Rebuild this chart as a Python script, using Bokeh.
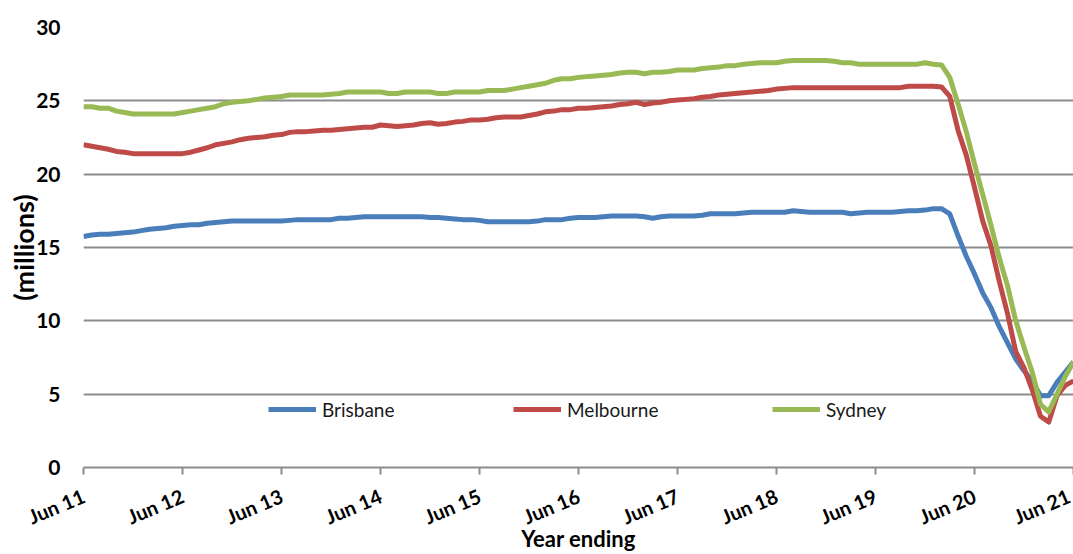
from bokeh.plotting import figure
from bokeh.models import FixedTicker, Legend, LegendItem, Range1d
from bokeh.embed import file_html
from bokeh.resources import INLINE

# Monthly values, Jun 2011 .. Jun 2021 (millions, year ending)
brisbane = [15.75, 15.85, 15.9, 15.9, 15.95, 16.0, 16.05, 16.15, 16.25, 16.3, 16.35, 16.45,
            16.5, 16.55, 16.55, 16.65, 16.7, 16.75, 16.8, 16.8, 16.8, 16.8, 16.8, 16.8,
            16.8, 16.85, 16.9, 16.9, 16.9, 16.9, 16.9, 17.0, 17.0, 17.05, 17.1, 17.1,
            17.1, 17.1, 17.1, 17.1, 17.1, 17.1, 17.05, 17.05, 17.0, 16.95, 16.9, 16.9,
            16.85, 16.75, 16.75, 16.75, 16.75, 16.75, 16.75, 16.8, 16.9, 16.9, 16.9, 17.0,
            17.05, 17.05, 17.05, 17.1, 17.15, 17.15, 17.15, 17.15, 17.1, 17.0, 17.1, 17.15,
            17.15, 17.15, 17.15, 17.2, 17.3, 17.3, 17.3, 17.3, 17.35, 17.4, 17.4, 17.4,
            17.4, 17.4, 17.5, 17.45, 17.4, 17.4, 17.4, 17.4, 17.4, 17.3, 17.35, 17.4,
            17.4, 17.4, 17.4, 17.45, 17.5, 17.5, 17.55, 17.65, 17.65, 17.3, 15.8, 14.4,
            13.2, 11.9, 10.9, 9.6, 8.5, 7.4, 6.6, 5.9, 4.9, 4.9, 5.8, 6.5, 7.2]

melbourne = [22.0, 21.9, 21.8, 21.7, 21.55, 21.5, 21.4, 21.4, 21.4, 21.4, 21.4, 21.4,
             21.4, 21.5, 21.65, 21.8, 22.0, 22.1, 22.2, 22.35, 22.45, 22.5, 22.55, 22.65,
             22.7, 22.85, 22.9, 22.9, 22.95, 23.0, 23.0, 23.05, 23.1, 23.15, 23.2, 23.2,
             23.35, 23.3, 23.25, 23.3, 23.35, 23.45, 23.5, 23.4, 23.45, 23.55, 23.6, 23.7,
             23.7, 23.75, 23.85, 23.9, 23.9, 23.9, 24.0, 24.1, 24.25, 24.3, 24.4, 24.4,
             24.5, 24.5, 24.55, 24.6, 24.65, 24.75, 24.8, 24.9, 24.75, 24.85, 24.9, 25.0,
             25.05, 25.1, 25.15, 25.25, 25.3, 25.4, 25.45, 25.5, 25.55, 25.6, 25.65, 25.7,
             25.8, 25.85, 25.9, 25.9, 25.9, 25.9, 25.9, 25.9, 25.9, 25.9, 25.9, 25.9,
             25.9, 25.9, 25.9, 25.9, 26.0, 26.0, 26.0, 26.0, 25.95, 25.3, 23.0, 21.3,
             19.1, 16.8, 15.1, 12.7, 10.5, 7.9, 6.8, 5.3, 3.5, 3.1, 4.9, 5.6, 5.9]

sydney = [24.6, 24.6, 24.5, 24.5, 24.3, 24.2, 24.1, 24.1, 24.1, 24.1, 24.1, 24.1,
          24.2, 24.3, 24.4, 24.5, 24.6, 24.8, 24.9, 24.95, 25.0, 25.1, 25.2, 25.25,
          25.3, 25.4, 25.4, 25.4, 25.4, 25.4, 25.45, 25.5, 25.6, 25.6, 25.6, 25.6,
          25.6, 25.5, 25.5, 25.6, 25.6, 25.6, 25.6, 25.5, 25.5, 25.6, 25.6, 25.6,
          25.6, 25.7, 25.7, 25.7, 25.8, 25.9, 26.0, 26.1, 26.2, 26.4, 26.5, 26.5,
          26.6, 26.65, 26.7, 26.75, 26.8, 26.9, 26.95, 26.95, 26.85, 26.95, 26.95, 27.0,
          27.1, 27.1, 27.1, 27.2, 27.25, 27.3, 27.4, 27.4, 27.5, 27.55, 27.6, 27.6,
          27.6, 27.7, 27.75, 27.75, 27.75, 27.75, 27.75, 27.7, 27.6, 27.6, 27.5, 27.5,
          27.5, 27.5, 27.5, 27.5, 27.5, 27.5, 27.6, 27.5, 27.45, 26.6, 24.8, 22.9,
          20.7, 18.6, 16.5, 14.3, 12.4, 10.0, 8.2, 6.5, 4.3, 3.8, 5.0, 6.2, 7.2]

tick_labels = ["Jun 11", "Jun 12", "Jun 13", "Jun 14", "Jun 15", "Jun 16",
               "Jun 17", "Jun 18", "Jun 19", "Jun 20", "Jun 21"]
y_ticks = [0, 5, 10, 15, 20, 25, 30]

months = list(range(len(brisbane)))
tick_pos = [12 * k for k in range(len(tick_labels))]

FONT = "Lato"
GRID = "#8c8c8c"

p = figure(width=1073, height=554, output_backend="svg", toolbar_location=None,
           x_range=Range1d(0, 120), y_range=Range1d(0, 30),
           min_border_left=83, min_border_right=0, min_border_top=27, min_border_bottom=87)
p.outline_line_color = None
p.background_fill_color = "white"

r_b = p.line(months, brisbane, line_color="#4a7ebb", line_width=5, line_join="round")
r_m = p.line(months, melbourne, line_color="#be4b48", line_width=5, line_join="round")
r_s = p.line(months, sydney, line_color="#98b954", line_width=5, line_join="round")

# x axis
xa = p.xaxis[0]
xa.ticker = FixedTicker(ticks=tick_pos)
xa.major_label_overrides = {pos: lab for pos, lab in zip(tick_pos, tick_labels)}
xa.major_label_orientation = 0.4
xa.major_label_text_font = FONT
xa.major_label_text_font_style = "bold"
xa.major_label_text_font_size = "20px"
xa.major_label_text_color = "black"
xa.major_label_standoff = 20
xa.axis_line_color = GRID
xa.axis_line_width = 2
xa.major_tick_line_color = GRID
xa.major_tick_line_width = 2
xa.major_tick_out = 7
xa.major_tick_in = 0
xa.minor_tick_line_color = None
xa.axis_label = "Year ending"
xa.axis_label_text_font = FONT
xa.axis_label_text_font_style = "bold"
xa.axis_label_text_font_size = "22px"
xa.axis_label_text_color = "black"
xa.axis_label_standoff = -18

# y axis
ya = p.yaxis[0]
ya.ticker = FixedTicker(ticks=y_ticks)
ya.major_label_text_font = FONT
ya.major_label_text_font_style = "bold"
ya.major_label_text_font_size = "21px"
ya.major_label_text_color = "black"
ya.major_label_standoff = 23
ya.major_tick_out = 0
ya.major_tick_in = 0
ya.axis_line_color = None
ya.major_tick_line_color = None
ya.minor_tick_line_color = None
ya.axis_label = "(millions)"
ya.axis_label_text_font = FONT
ya.axis_label_text_font_style = "bold"
ya.axis_label_text_font_size = "27px"
ya.axis_label_text_color = "black"
ya.axis_label_standoff = -7

p.xgrid.grid_line_color = None
p.ygrid.grid_line_color = GRID
p.ygrid.grid_line_width = 2
p.ygrid.ticker = FixedTicker(ticks=y_ticks[1:])

for name, rend, xloc in [("Brisbane", r_b, 185), ("Melbourne", r_m, 430), ("Sydney", r_s, 689)]:
    lg = Legend(items=[LegendItem(label=name, renderers=[rend])], location=(xloc, 46),
                orientation="horizontal", border_line_color=None, background_fill_alpha=0,
                padding=0, margin=0, glyph_width=48, glyph_height=24, label_height=24,
                label_standoff=6, label_text_font=FONT, label_text_font_size="19px",
                label_text_color="#1a1a1a")
    p.add_layout(lg)

open("out.html", "w").write(file_html(p, INLINE))
